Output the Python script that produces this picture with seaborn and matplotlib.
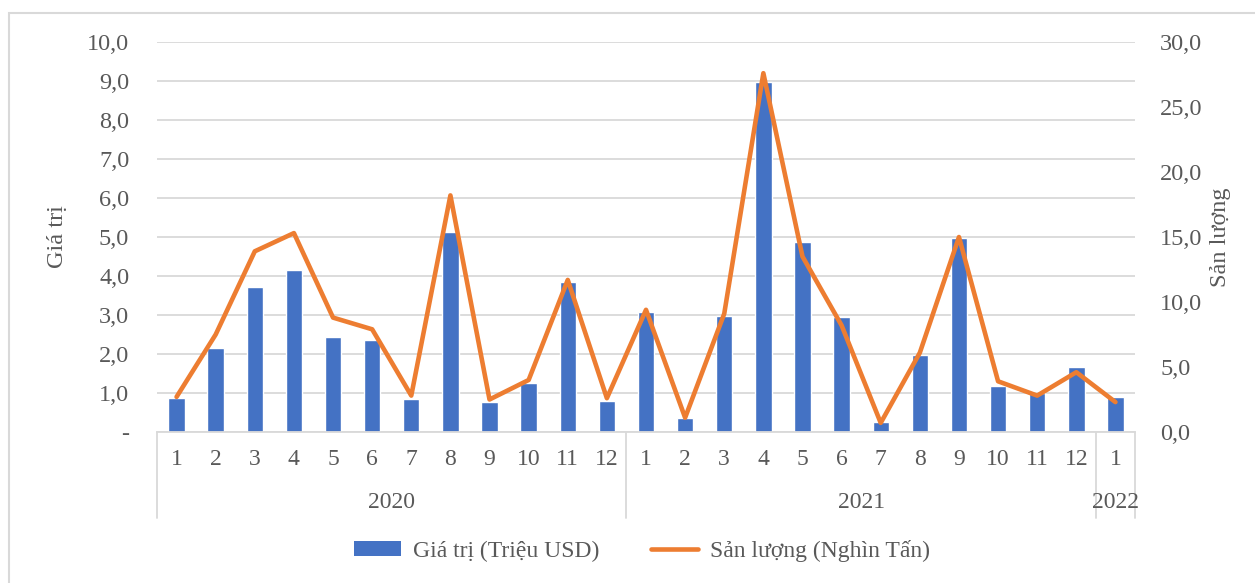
import matplotlib
matplotlib.use("Agg")
import matplotlib.pyplot as plt
from matplotlib.lines import Line2D
from matplotlib.patches import Patch, Rectangle
import seaborn as sns
import pandas as pd

# Monthly export figures, Jan 2020 - Jan 2022
years = ["2020"] * 12 + ["2021"] * 12 + ["2022"]
months = [str(m) for m in range(1, 13)] * 2 + ["1"]
value_musd = [0.86, 2.15, 3.72, 4.15, 2.44, 2.35, 0.85, 5.13, 0.78, 1.26, 3.85, 0.80,
              3.08, 0.36, 2.98, 8.98, 4.88, 2.94, 0.26, 1.97, 4.97, 1.19, 1.00, 1.66,
              0.89]
volume_kt = [2.7, 7.5, 13.9, 15.3, 8.8, 7.9, 2.8, 18.2, 2.5, 4.0, 11.7, 2.6,
             9.4, 1.1, 9.1, 27.6, 13.5, 8.2, 0.7, 6.1, 15.0, 3.9, 2.8, 4.6,
             2.3]
left_ticks = [0, 1, 2, 3, 4, 5, 6, 7, 8, 9, 10]
right_ticks = [0, 5, 10, 15, 20, 25, 30]

bar_label = "Giá trị (Triệu USD)"
line_label = "Sản lượng (Nghìn Tấn)"

df = pd.DataFrame({"pos": list(range(len(months))), "month": months, "year": years,
                   "value": value_musd, "volume": volume_kt})

BLUE = "#4472C4"
ORANGE = "#ED7D31"
TEXT = "#595959"
GRID = "#D9D9D9"
FS_AXIS = 17.5
FS_CAT = 17

sns.set_theme(style="white")
plt.rcParams["font.family"] = ["Liberation Serif", "DejaVu Serif"]

W, H = 1255, 583
fig = plt.figure(figsize=(W / 100, H / 100), dpi=100)
ax_l, ax_r, ax_b, ax_t = 157, 1135, 432, 42
ax = fig.add_axes([ax_l / W, 1 - ax_b / H, (ax_r - ax_l) / W, (ax_b - ax_t) / H])

# Chart-area border (top and left edges fall inside the canvas)
fig.patches.append(Rectangle((9 / W, -0.1), 1.2, 1 - 13 / H + 0.1, transform=fig.transFigure,
                             fill=False, edgecolor=GRID, lw=1.5, zorder=0))

sns.barplot(data=df, x="pos", y="value", ax=ax, color=BLUE, saturation=1,
            width=0.42, zorder=2)
ax.set_xlim(-0.5, len(months) - 0.5)
ax.set_ylim(0, 10)
ax.set_yticks(left_ticks)
ax.set_yticklabels(["-" if t == 0 else f"{t:.1f}".replace(".", ",") for t in left_ticks])
ax.grid(axis="y", color=GRID, lw=1.3, zorder=0)
ax.set_axisbelow(True)
for s in ["top", "right", "left"]:
    ax.spines[s].set_visible(False)
ax.spines["bottom"].set_color(GRID)
ax.spines["bottom"].set_linewidth(1.3)
ax.tick_params(axis="y", length=0, pad=20, labelsize=FS_AXIS, labelcolor=TEXT)
ax.set_xticks(df["pos"])
ax.set_xticklabels(months)
ax.tick_params(axis="x", length=0, pad=12, labelsize=FS_CAT, labelcolor=TEXT)
ax.set_xlabel("")
ax.set_ylabel("Giá trị", fontsize=FS_AXIS, color=TEXT)
ax.yaxis.set_label_coords(-0.091, 0.5)

ax2 = ax.twinx()
sns.lineplot(data=df, x="pos", y="volume", ax=ax2, color=ORANGE, lw=3.3,
             solid_joinstyle="round", solid_capstyle="round", zorder=3)
ax2.set_ylim(0, 30)
ax2.set_yticks(right_ticks)
ax2.set_yticklabels([f"{t:.1f}".replace(".", ",") for t in right_ticks])
ax2.tick_params(axis="y", length=0, pad=18, labelsize=FS_AXIS, labelcolor=TEXT)
for s in ax2.spines.values():
    s.set_visible(False)
ax2.grid(False)
ax2.set_ylabel("Sản lượng", fontsize=FS_AXIS, color=TEXT, rotation=90)
ax2.yaxis.set_label_coords(1.077, 0.5)

# Year grouping under the month labels
trans = ax.get_xaxis_transform()
sep_depth = (518 - ax_b) / (ax_b - ax_t)
groups = df.groupby("year", sort=True)["pos"]
boundaries = [-0.5]
for yr, p in groups:
    lo, hi = p.min(), p.max()
    boundaries.append(hi + 0.5)
    ax.annotate(yr, xy=((lo + hi) / 2, 0), xycoords=trans, xytext=(0, -71),
                textcoords="offset pixels", ha="center", va="center",
                fontsize=FS_CAT, color=TEXT, annotation_clip=False)
for b in boundaries:
    ax.add_line(Line2D([b, b], [0, -sep_depth], transform=trans, color=GRID,
                       lw=1.3, clip_on=False))

handles = [Patch(facecolor=BLUE, edgecolor="none", label=bar_label),
           Line2D([0], [0], color=ORANGE, lw=3.3, solid_capstyle="round", label=line_label)]
fig.legend(handles=handles, loc="center", bbox_to_anchor=(642 / W, 1 - 551 / H),
           ncol=2, frameon=False, fontsize=FS_CAT, labelcolor=TEXT,
           handlelength=2.0, handleheight=0.6, handletextpad=0.5, columnspacing=2.2)

fig.savefig("out.png", dpi=100)
